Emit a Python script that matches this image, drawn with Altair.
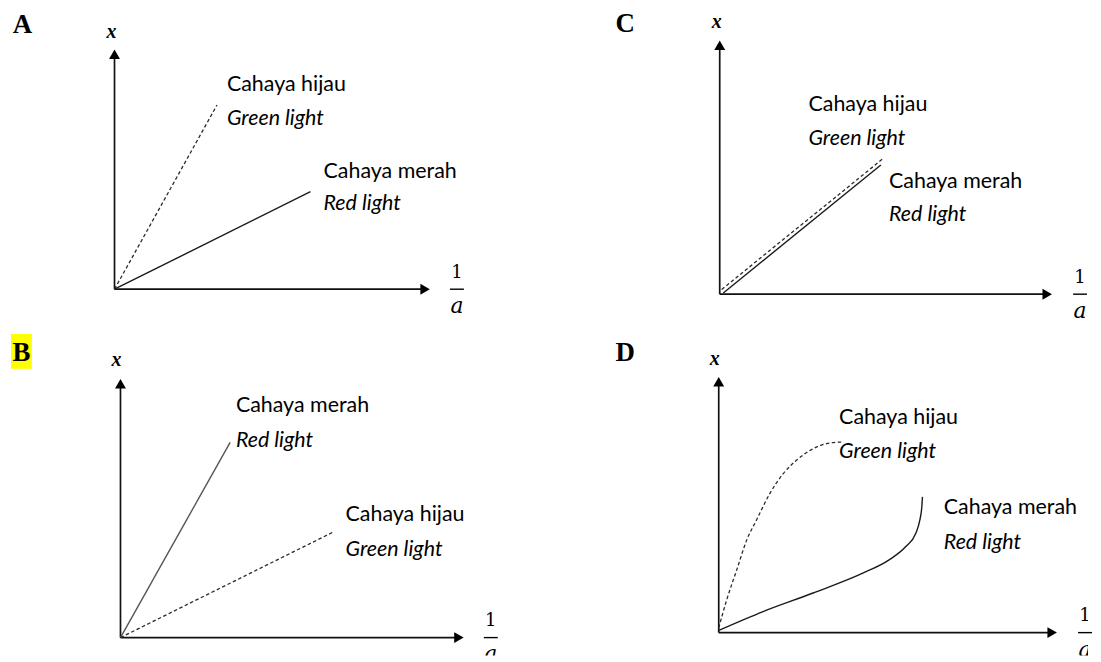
import altair as alt
import pandas as pd

# ---------------- data (in axis units: origin = 0, arrowhead = 1) ----------------
# Panel A
A_green_x = [0.0, 0.330]
A_green_y = [0.0, 0.784]
A_red_x = [0.0, 0.631]
A_red_y = [0.0, 0.415]
# Panel B
B_red_x = [0.0, 0.324]
B_red_y = [0.0, 0.769]
B_green_x = [0.0, 0.629]
B_green_y = [0.0, 0.416]
# Panel C
C_green_x = [0.006, 0.497]
C_green_y = [0.019, 0.543]
C_red_x = [0.011, 0.492]
C_red_y = [0.005, 0.519]
# Panel D
D_green_x = [0.0, 0.024, 0.054, 0.084, 0.113, 0.153, 0.193, 0.233, 0.283, 0.333, 0.372]
D_green_y = [0.019, 0.131, 0.250, 0.369, 0.448, 0.554, 0.633, 0.687, 0.733, 0.756, 0.760]
D_red_x = [0.0, 0.133, 0.283, 0.432, 0.511, 0.561, 0.591, 0.603, 0.609, 0.611]
D_red_y = [0.009, 0.084, 0.158, 0.237, 0.290, 0.343, 0.396, 0.448, 0.501, 0.541]

# label texts
HIJAU = "Cahaya hijau"
GREEN = "Green light"
MERAH = "Cahaya merah"
RED = "Red light"

# label anchor positions (axis units): (x, y of Malay line, y of English line)
A_labels = [(HIJAU, GREEN, 0.362, 0.869, 0.725), (MERAH, RED, 0.673, 0.500, 0.364)]
B_labels = [(MERAH, RED, 0.341, 0.914, 0.776), (HIJAU, GREEN, 0.665, 0.482, 0.345)]
C_labels = [(HIJAU, GREEN, 0.271, 0.760, 0.624), (MERAH, RED, 0.517, 0.452, 0.320)]
D_labels = [(HIJAU, GREEN, 0.361, 0.857, 0.718), (MERAH, RED, 0.675, 0.496, 0.357)]

# ---------------- layout (page pixels) ----------------
layout = {
    "A": dict(L=8, T=8, R=600, B=328, ox=115, oy=288, ux=312, uy=236,
              letter=(22.5, 22.5), xlab=(112, 30), frac_x=459),
    "C": dict(L=600, T=8, R=1093, B=328, ox=723, oy=293, ux=329, uy=250,
              letter=(628, 22), xlab=(720, 20), frac_x=1085),
    "B": dict(L=8, T=328, R=600, B=656, ox=121, oy=638, ux=340, uy=255,
              letter=(21.5, 352), xlab=(117, 359), frac_x=493),
    "D": dict(L=600, T=328, R=1093, B=656, ox=722, oy=633, ux=335, uy=252,
              letter=(628, 352), xlab=(718, 358), frac_x=1090),
}

LABEL_FONT = "Lato"
LABEL_SIZE = 21.5


def panel(key, series, labels, solid_color="#1a1a1a", highlight=False):
    p = layout[key]

    def u(px, py):
        return (px - p["ox"]) / p["ux"], (p["oy"] - py) / p["uy"]

    xs = alt.Scale(domain=[(p["L"] - p["ox"]) / p["ux"], (p["R"] - p["ox"]) / p["ux"]],
                   nice=False, zero=False)
    ys = alt.Scale(domain=[(p["oy"] - p["B"]) / p["uy"], (p["oy"] - p["T"]) / p["uy"]],
                   nice=False, zero=False)
    X = alt.X("x:Q", scale=xs, axis=None)
    Y = alt.Y("y:Q", scale=ys, axis=None)
    W = p["R"] - p["L"]
    H = p["B"] - p["T"]

    layers = []

    if highlight:
        x0, y0 = u(11, 333)
        x1, y1 = u(32, 368)
        hl = pd.DataFrame({"x": [x0], "y": [y0], "x2": [x1], "y2": [y1]})
        layers.append(alt.Chart(hl).mark_rect(color="#ffff00").encode(
            x=X, y=Y, x2="x2:Q", y2="y2:Q"))

    # axes
    ax = pd.DataFrame({"x": [0, 0], "y": [0, 0], "x2": [1, 0], "y2": [0, 1]})
    layers.append(alt.Chart(ax).mark_rule(color="#111111", strokeWidth=1.7).encode(
        x=X, y=Y, x2="x2:Q", y2="y2:Q"))
    arr = pd.DataFrame({"x": [1, 0], "y": [0, 1], "shape": ["triangle-right", "triangle-up"]})
    layers.append(alt.Chart(arr).mark_point(filled=True, color="black", size=120, opacity=1).encode(
        x=X, y=Y, shape=alt.Shape("shape:N", scale=None)))

    # data lines
    for xs_, ys_, dashed in series:
        df = pd.DataFrame({"x": xs_, "y": ys_, "o": list(range(len(xs_)))})
        if dashed:
            m = alt.Chart(df).mark_line(color="#2a2a2a", strokeWidth=1.3, strokeDash=[3.5, 2.5],
                                        interpolate="monotone")
        else:
            m = alt.Chart(df).mark_line(color=solid_color, strokeWidth=1.4, interpolate="monotone")
        layers.append(m.encode(x=X, y=Y, order="o:Q"))

    # labels
    normal = pd.DataFrame({"x": [l[2] for l in labels], "y": [l[3] for l in labels],
                           "t": [l[0] for l in labels]})
    italic = pd.DataFrame({"x": [l[2] for l in labels], "y": [l[4] for l in labels],
                           "t": [l[1] for l in labels]})
    layers.append(alt.Chart(normal).mark_text(align="left", baseline="middle", font=LABEL_FONT,
                                              fontSize=LABEL_SIZE, color="black").encode(
        x=X, y=Y, text="t:N"))
    layers.append(alt.Chart(italic).mark_text(align="left", baseline="middle", font=LABEL_FONT,
                                              fontSize=LABEL_SIZE, fontStyle="italic",
                                              color="black").encode(
        x=X, y=Y, text="t:N"))

    # panel letter
    lx, ly = u(*p["letter"])
    layers.append(alt.Chart(pd.DataFrame({"x": [lx], "y": [ly], "t": [key]})).mark_text(
        align="center", baseline="middle", font="Liberation Serif", fontWeight="bold",
        fontSize=27, color="black").encode(x=X, y=Y, text="t:N"))

    # y axis label x
    xx, xy = u(*p["xlab"])
    layers.append(alt.Chart(pd.DataFrame({"x": [xx], "y": [xy], "t": ["x"]})).mark_text(
        align="center", baseline="middle", font="Liberation Serif", fontStyle="italic",
        fontWeight="bold", fontSize=20, color="black").encode(x=X, y=Y, text="t:N"))

    # x axis label 1/a
    fx, _ = u(p["frac_x"], p["oy"])
    _, fy1 = u(p["frac_x"], p["oy"] - 16.5)
    _, fya = u(p["frac_x"], p["oy"] + 17)
    bl, _ = u(p["frac_x"] - 7, p["oy"])
    br, _ = u(p["frac_x"] + 7, p["oy"])
    layers.append(alt.Chart(pd.DataFrame({"x": [fx], "y": [fy1], "t": ["1"]})).mark_text(
        align="center", baseline="middle", font="DejaVu Serif", fontSize=18,
        color="black", clip=True).encode(x=X, y=Y, text="t:N"))
    layers.append(alt.Chart(pd.DataFrame({"x": [fx], "y": [fya], "t": ["a"]})).mark_text(
        align="center", baseline="middle", font="DejaVu Serif", fontStyle="italic", fontSize=22,
        color="black", clip=True).encode(x=X, y=Y, text="t:N"))
    layers.append(alt.Chart(pd.DataFrame({"x": [bl], "y": [0.0], "x2": [br]})).mark_rule(
        color="black", strokeWidth=1.4).encode(x=X, y=Y, x2="x2:Q"))

    return alt.layer(*layers).properties(width=W, height=H)


pA = panel("A", [(A_green_x, A_green_y, True), (A_red_x, A_red_y, False)], A_labels)
pC = panel("C", [(C_green_x, C_green_y, True), (C_red_x, C_red_y, False)], C_labels)
pB = panel("B", [(B_red_x, B_red_y, False), (B_green_x, B_green_y, True)], B_labels,
           solid_color="#555555", highlight=True)
pD = panel("D", [(D_green_x, D_green_y, True), (D_red_x, D_red_y, False)], D_labels)

chart = alt.concat(pA, pC, pB, pD, columns=2, spacing=0, bounds="flush",
                   padding=0).configure_view(stroke=None)

chart.save("out.html", embed_options={"renderer": "svg", "actions": False})
